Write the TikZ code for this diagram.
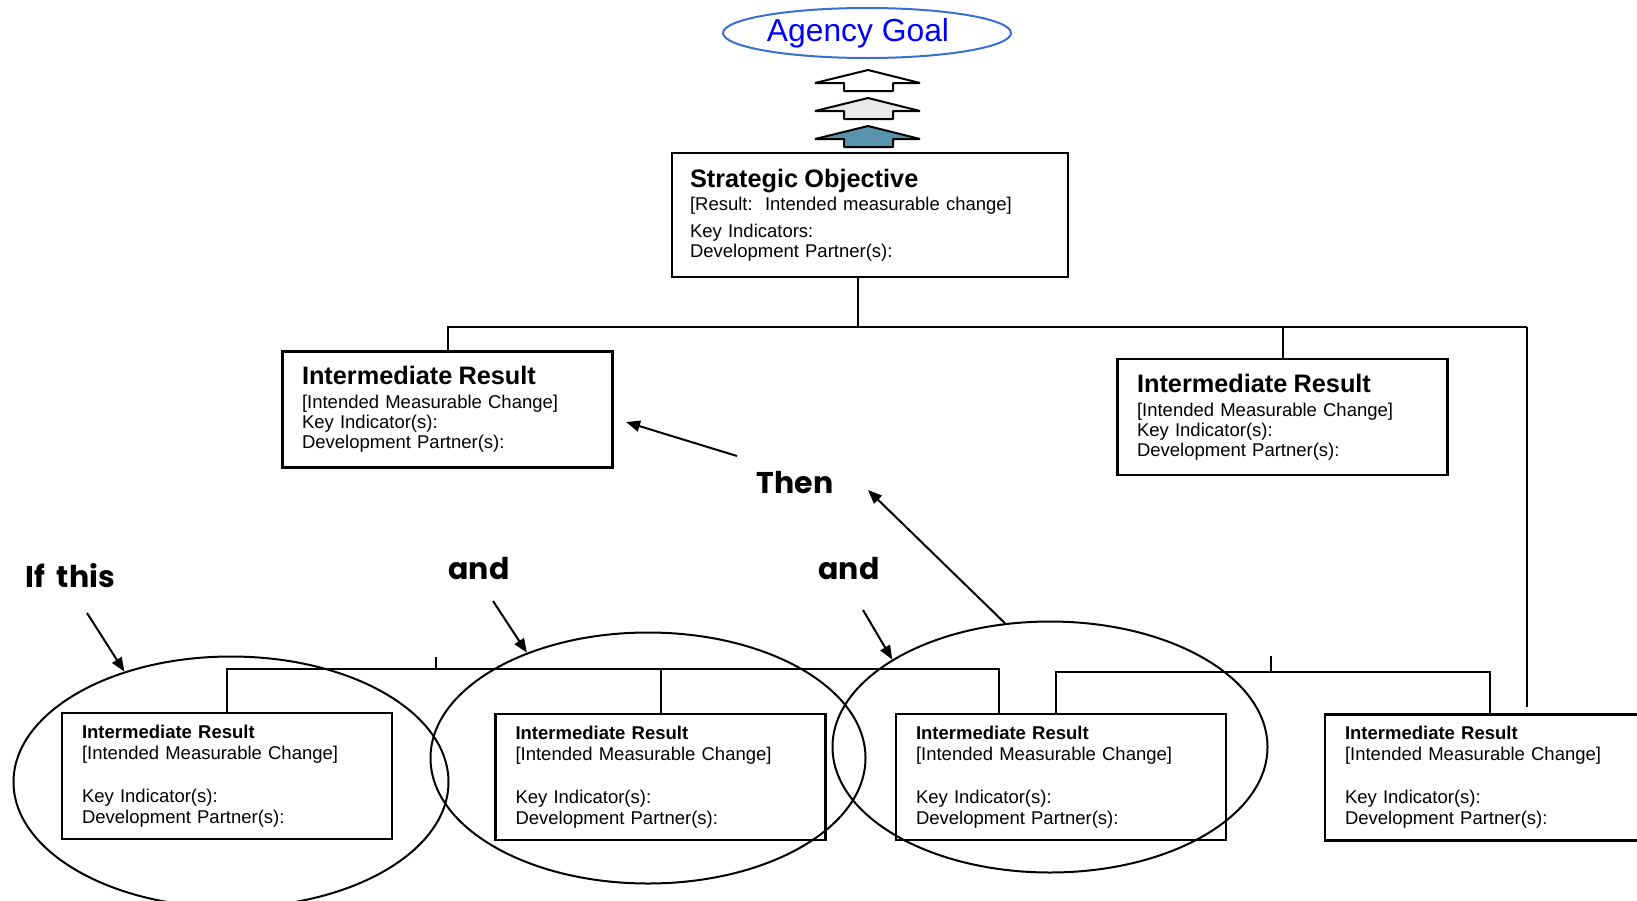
\documentclass[tikz,border=0pt]{standalone}
\usepackage{fontspec}
\setmainfont{Liberation Sans}
\newfontfamily\handfont{Poppins}
\usetikzlibrary{arrows.meta,shapes.geometric}
\definecolor{goalblue}{RGB}{58,110,210}
\definecolor{steel}{RGB}{88,146,172}

\begin{document}
\begin{tikzpicture}[x=1pt,y=-1pt]
    \tikzset{box/.style={draw=black,line width=2.2pt,align=left,inner xsep=18pt,inner ysep=0pt,font=\fontsize{18.5}{20}\selectfont}}
    \tikzset{upbox/.style={box,text width=291pt,minimum width=330pt,minimum height=116pt}}
    \tikzset{lowbox/.style={box,text width=290pt,minimum width=330pt,minimum height=126pt,font=\fontsize{18.5}{21}\selectfont}}
    \tikzset{grp/.style={draw=black,line width=2pt,ellipse,inner sep=0pt,minimum width=435pt,minimum height=251pt}}
    \tikzset{hand/.style={font=\handfont\bfseries\fontsize{30}{32}\selectfont,anchor=base,inner sep=0pt}}
    \tikzset{edge/.style={line width=2pt}}
    \tikzset{pointer/.style={line width=2pt,-{Triangle[length=14pt,width=11pt]}}}

    \useasboundingbox (0,0) rectangle (1637,900);

    \node[ellipse,draw=goalblue,line width=2pt,text=blue,minimum width=288pt,minimum height=50pt,inner sep=0pt,font=\fontsize{31.8}{34}\selectfont] (goal) at (867,33) {Agency Goal\hspace*{18pt}};

    \foreach \yy/\col in {70/white,98/gray!18,126/steel}
       \draw[line width=2pt,line join=bevel,fill=\col] (868,\yy) -- (920,\yy+13) -- (893,\yy+13) -- (893,\yy+21) -- (844,\yy+21) -- (844,\yy+13) -- (815,\yy+13) -- cycle;

    \node[box,text width=360pt,minimum width=392pt,minimum height=124pt] (11) at (870,215) {{\fontsize{25.3}{28}\selectfont\bfseries Strategic Objective}\\[3pt][Result:~~Intended measurable change]\\[7pt]Key Indicators:\\Development Partner(s):};

    \node[upbox] (21) at (447.5,409.5) {{\fontsize{25.3}{28}\selectfont\bfseries Intermediate Result}\\[4pt][Intended Measurable Change]\\Key Indicator(s):\\Development Partner(s):};
    \node[upbox] (22) at (1282.5,417) {{\fontsize{25.3}{28}\selectfont\bfseries Intermediate Result}\\[4pt][Intended Measurable Change]\\Key Indicator(s):\\Development Partner(s):};

    \node[lowbox] (31) at (227,776) {\textbf{Intermediate Result}\\{}[Intended Measurable Change]\\[22pt]Key Indicator(s):\\Development Partner(s):};
    \node[lowbox] (32) at (660.5,777) {\textbf{Intermediate Result}\\{}[Intended Measurable Change]\\[22pt]Key Indicator(s):\\Development Partner(s):};
    \node[lowbox] (33) at (1061,777) {\textbf{Intermediate Result}\\{}[Intended Measurable Change]\\[22pt]Key Indicator(s):\\Development Partner(s):};
    \node[lowbox] (34) at (1490,777.5) {\textbf{Intermediate Result}\\{}[Intended Measurable Change]\\[22pt]Key Indicator(s):\\Development Partner(s):};

    \node[grp] (g1) at (231,782) {};
    \node[grp] (g2) at (648,758) {};
    \node[grp] (g3) at (1050,747) {};

    \node[hand] (ifthis) at (70,587) {If\hspace{12pt}this};
    \node[hand] (and1) at (479,579) {and};
    \node[hand] (and2) at (849,579) {and};
    \node[hand] (then) at (795,493) {Then};

    \coordinate (topbar) at (1527,327);
    \coordinate (barA) at (999,669);
    \coordinate (barB) at (1271,672);
    \coordinate (stubA) at (436,657);
    \coordinate (stubB) at (1271,656);

    % tree lines
    \draw[edge] ([xshift=-12pt]11.south) -- ([xshift=-12pt]11.south |- topbar);
    \draw[edge] (21.north) |- (topbar);
    \draw[edge] (22.north) -- (22.north |- topbar);
    \draw[edge,shorten >=6pt] (topbar) -- (topbar |- 34.north);
    \draw[edge] (31.north) |- (barA) -- (barA |- 33.north);
    \draw[edge] (32.north) -- (32.north |- barA);
    \draw[edge] (stubA) -- (stubA |- barA);
    \draw[edge] ([xshift=-5pt]33.north) |- (barB -| 34.north) -- (34.north);
    \draw[edge] (stubB) -- (barB);

    % if ... then
    \coordinate (ifthis-tail) at (87,613);
    \coordinate (and1-tail) at (493,601);
    \coordinate (and2-tail) at (863,610);
    \coordinate (then-tail) at (737,456);
    \coordinate (then-head) at (868,490);

    \draw[pointer] (ifthis-tail) -- (g1.134);
    \draw[pointer] (and1-tail) -- (g2.139);
    \draw[pointer] (and2-tail) -- (g3.151);
    \draw[pointer,shorten >=13pt] (then-tail) -- (21.357);
    \draw[pointer] (g3.110) -- (then-head);
\end{tikzpicture}
\end{document}
